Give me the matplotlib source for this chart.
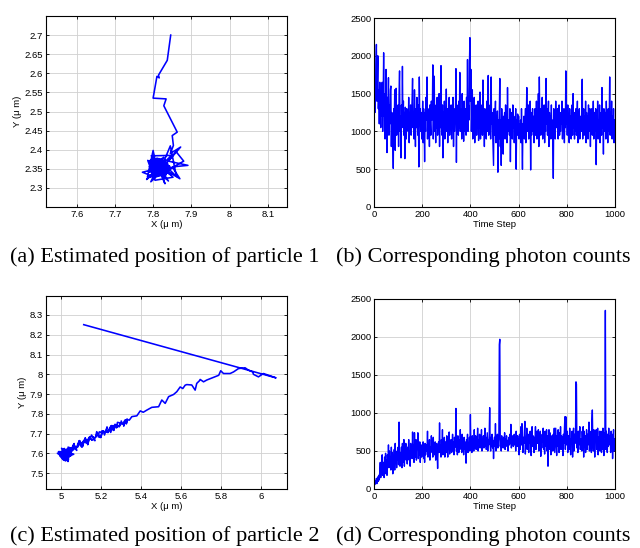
import matplotlib
matplotlib.use("Agg")
import matplotlib.pyplot as plt
from matplotlib.ticker import FuncFormatter

# ---------------- data ----------------
# (a) trajectory of particle 1: approach path, dense cluster, and spikes
traj1_head_x = [7.846, 7.837, 7.814, 7.816, 7.810, 7.800, 7.834, 7.828, 7.863, 7.850, 7.853,
                7.845, 7.872, 7.840, 7.891, 7.850, 7.870, 7.835, 7.880, 7.860, 7.830, 7.861, 7.845, 7.820]
traj1_head_y = [2.700, 2.634, 2.595, 2.588, 2.592, 2.535, 2.533, 2.515, 2.446, 2.437, 2.411,
                2.390, 2.407, 2.370, 2.359, 2.355, 2.324, 2.345, 2.370, 2.395, 2.360, 2.330, 2.410, 2.350]
traj1_cluster_x = [
    7.812, 7.828, 7.801, 7.836, 7.807, 7.822, 7.795, 7.841, 7.815, 7.803,
    7.830, 7.818, 7.792, 7.826, 7.809, 7.844, 7.813, 7.798, 7.833, 7.820,
    7.805, 7.838, 7.816, 7.790, 7.824, 7.811, 7.847, 7.800, 7.819, 7.832,
    7.808, 7.823, 7.796, 7.839, 7.814, 7.827, 7.802, 7.835, 7.817, 7.793,
    7.829, 7.806, 7.843, 7.821, 7.799, 7.831, 7.810, 7.825, 7.804, 7.837,
    7.815, 7.797, 7.834, 7.812, 7.840, 7.806, 7.822, 7.789, 7.827, 7.818,
    7.803, 7.836, 7.814, 7.829, 7.799, 7.845, 7.811, 7.824, 7.807, 7.832,
    7.819, 7.794, 7.828, 7.809, 7.838, 7.816, 7.801, 7.826, 7.813, 7.842,
    7.805, 7.821, 7.796, 7.833, 7.817, 7.808, 7.830, 7.791, 7.824, 7.812,
    7.839, 7.802, 7.827, 7.815, 7.846, 7.810, 7.820, 7.798, 7.835, 7.816,
    7.806, 7.831, 7.813, 7.825, 7.800, 7.837, 7.819, 7.795, 7.828, 7.811,
    7.843, 7.807, 7.822, 7.816, 7.834, 7.803, 7.826, 7.812, 7.799, 7.830,
    7.818, 7.840, 7.808, 7.824, 7.797, 7.832, 7.814, 7.829, 7.804, 7.821,
    7.836, 7.811, 7.793, 7.827, 7.817, 7.844, 7.806, 7.823, 7.815, 7.801,
    7.833, 7.809, 7.825, 7.790, 7.838, 7.814, 7.820, 7.802, 7.831, 7.816]
traj1_cluster_y = [
    2.351, 2.338, 2.366, 2.344, 2.372, 2.331, 2.358, 2.347, 2.377, 2.335,
    2.362, 2.349, 2.328, 2.369, 2.341, 2.356, 2.374, 2.337, 2.352, 2.365,
    2.333, 2.359, 2.345, 2.371, 2.339, 2.363, 2.350, 2.327, 2.368, 2.343,
    2.357, 2.376, 2.336, 2.354, 2.367, 2.342, 2.330, 2.361, 2.348, 2.373,
    2.340, 2.364, 2.353, 2.332, 2.370, 2.346, 2.378, 2.355, 2.337, 2.360,
    2.349, 2.366, 2.334, 2.358, 2.343, 2.375, 2.352, 2.329, 2.363, 2.345,
    2.369, 2.340, 2.356, 2.333, 2.361, 2.347, 2.372, 2.338, 2.354, 2.367,
    2.335, 2.358, 2.380, 2.344, 2.362, 2.331, 2.351, 2.368, 2.339, 2.357,
    2.373, 2.348, 2.336, 2.365, 2.343, 2.376, 2.353, 2.341, 2.360, 2.330,
    2.355, 2.370, 2.342, 2.359, 2.334, 2.364, 2.346, 2.374, 2.338, 2.361,
    2.344, 2.366, 2.332, 2.357, 2.371, 2.340, 2.362, 2.350, 2.328, 2.367,
    2.352, 2.337, 2.374, 2.345, 2.359, 2.369, 2.336, 2.356, 2.378, 2.343,
    2.364, 2.350, 2.333, 2.370, 2.347, 2.355, 2.339, 2.365, 2.372, 2.341,
    2.358, 2.330, 2.363, 2.348, 2.376, 2.337, 2.354, 2.367, 2.344, 2.360,
    2.346, 2.371, 2.339, 2.356, 2.365, 2.332, 2.361, 2.349, 2.373, 2.352]
traj1_tail_x = [7.772, 7.800, 7.785, 7.800, 7.810, 7.794, 7.820, 7.831, 7.815,
                7.783, 7.848, 7.795, 7.852, 7.805, 7.786, 7.840, 7.818]
traj1_tail_y = [2.341, 2.330, 2.328, 2.398, 2.350, 2.316, 2.340, 2.311, 2.350,
                2.322, 2.385, 2.384, 2.328, 2.320, 2.372, 2.318, 2.352]

# (c) trajectory of particle 2: straight jump, jagged path, noisy band, cluster
traj2_path_x = [5.112, 6.075, 6.012, 5.987, 5.962, 5.958, 5.937, 5.920, 5.887, 5.862, 5.845, 5.812,
                5.798, 5.788, 5.728, 5.712, 5.695, 5.692, 5.678, 5.670, 5.653, 5.628, 5.620, 5.608,
                5.595, 5.578, 5.562, 5.537, 5.520, 5.503, 5.487, 5.453, 5.428, 5.410, 5.395, 5.378,
                5.353, 5.340]
traj2_path_y = [8.251, 7.982, 8.004, 7.987, 8.000, 8.012, 8.021, 8.033, 8.029, 8.012, 8.004, 8.004,
                8.018, 7.995, 7.971, 7.962, 7.974, 7.968, 7.954, 7.920, 7.946, 7.948, 7.945, 7.928,
                7.936, 7.912, 7.898, 7.887, 7.853, 7.870, 7.836, 7.833, 7.819, 7.808, 7.815, 7.790,
                7.786, 7.768]
traj2_band_x = [
    5.332, 5.325, 5.329, 5.318, 5.312, 5.320, 5.305, 5.300, 5.296, 5.289,
    5.294, 5.281, 5.276, 5.283, 5.268, 5.262, 5.270, 5.255, 5.259, 5.247,
    5.240, 5.251, 5.233, 5.236, 5.224, 5.229, 5.216, 5.210, 5.219, 5.203,
    5.197, 5.206, 5.190, 5.184, 5.193, 5.177, 5.171, 5.180, 5.164, 5.158,
    5.168, 5.151, 5.145, 5.155, 5.138, 5.132, 5.142, 5.125, 5.119, 5.129,
    5.112, 5.106, 5.116, 5.099, 5.093, 5.103, 5.086, 5.080, 5.090, 5.073,
    5.067, 5.077, 5.060, 5.054, 5.064, 5.047, 5.041, 5.051, 5.034, 5.028,
    5.038, 5.021, 5.015, 5.025, 5.008,
    5.019, 5.002, 5.013, 4.996, 5.030, 5.007, 5.041, 4.990, 5.022, 5.052,
    5.010, 5.035, 4.985, 5.027, 5.046, 5.004, 5.018, 5.058, 4.993, 5.033,
    5.015, 5.049, 5.001, 5.024, 4.980, 5.038, 5.011, 5.062, 5.006, 5.029,
    5.044, 4.997, 5.020, 5.055, 5.008, 4.988, 5.036, 5.016, 5.067, 5.003,
    5.026, 5.047, 4.992, 5.012, 5.040, 5.021, 5.072, 5.005, 5.034, 5.014]
traj2_band_y = [
    7.771, 7.749, 7.774, 7.761, 7.738, 7.770, 7.747, 7.764, 7.745, 7.734,
    7.754, 7.757, 7.729, 7.741, 7.747, 7.716, 7.739, 7.720, 7.741, 7.706,
    7.726, 7.741, 7.705, 7.719, 7.707, 7.734, 7.693, 7.713, 7.708, 7.714,
    7.680, 7.706, 7.709, 7.685, 7.681, 7.710, 7.682, 7.700, 7.669, 7.685,
    7.664, 7.693, 7.675, 7.667, 7.678, 7.644, 7.685, 7.657, 7.679, 7.650,
    7.661, 7.635, 7.670, 7.647, 7.663, 7.631, 7.651, 7.630, 7.665, 7.623,
    7.638, 7.615, 7.643, 7.620, 7.650, 7.605, 7.630, 7.614, 7.632, 7.588,
    7.625, 7.602, 7.625, 7.583, 7.606,
    7.612, 7.583, 7.624, 7.592, 7.571, 7.618, 7.587, 7.603, 7.566, 7.628,
    7.595, 7.563, 7.608, 7.580, 7.621, 7.598, 7.575, 7.632, 7.606, 7.559,
    7.617, 7.589, 7.626, 7.568, 7.601, 7.579, 7.614, 7.596, 7.573, 7.622,
    7.586, 7.609, 7.562, 7.625, 7.593, 7.610, 7.570, 7.604, 7.631, 7.581,
    7.599, 7.616, 7.588, 7.565, 7.620, 7.585, 7.629, 7.594, 7.577, 7.605]

# photon counts, sampled every 2nd time step
time_steps = list(range(0, 1000, 2))
counts1 = [
    1350, 1600, 1250, 1500, 1900, 2150, 1400, 1700, 2000, 1300,
    1550, 1100, 1650, 1250, 1050, 1450, 1200, 1650, 1000, 1350,
    2040, 1200, 1500, 900, 1300, 1820, 1100, 720, 1450, 1250,
    1710, 950, 1350, 1100, 1550, 1600, 800, 1250, 1050, 900,
    510, 1300, 1100, 1550, 750, 1400, 1570, 950, 1250, 1100,
    1350, 800, 1500, 1800, 1000, 1200, 650, 1350, 1050, 1860,
    1100, 1400, 950, 1250, 640, 1320, 1150, 900, 1300, 1050,
    1250, 1000, 1450, 850, 1200, 1100, 1350, 950, 1150, 1400,
    1700, 1050, 1250, 900, 1550, 1150, 800, 1300, 1050, 1450,
    1200, 950, 1350, 530, 1720, 1100, 1300, 1000, 1250, 900,
    1050, 1400, 850, 1300, 1100, 600, 1250, 1000, 1450, 1150,
    1720, 900, 1300, 1050, 1200, 800, 1350, 1100, 950, 1400,
    1150, 1250, 1880, 900, 1300, 1730, 1000, 1200, 850, 1350,
    1050, 1450, 950, 1200, 1100, 1500, 800, 1300, 1050, 1870,
    1150, 950, 1350, 650, 1250, 1050, 1400, 900, 1200, 1100,
    1560, 1000, 1300, 850, 1200, 1100, 1450, 950, 1250, 1050,
    1350, 900, 1200, 1050, 1450, 800, 1300, 1000, 1150, 1250,
    1830, 590, 1350, 1100, 1250, 950, 1400, 1050, 1780, 1000,
    1200, 1300, 900, 1500, 1050, 1250, 870, 1400, 1100, 1000,
    1300, 950, 1450, 1100, 1950, 1000, 1350, 1150, 1900, 2240,
    1400, 1820, 1000, 1250, 1550, 900, 1300, 1100, 1450, 850,
    1200, 1000, 1350, 950, 1250, 1100, 1400, 880, 1150, 1050,
    1520, 900, 1250, 1100, 1350, 950, 1680, 1000, 1200, 800,
    1300, 1050, 1150, 900, 1400, 1000, 1250, 1740, 950, 1200,
    1050, 1350, 900, 1720, 1100, 1250, 1000, 800, 550, 1300,
    950, 1200, 1400, 850, 1100, 1000, 1270, 460, 1150, 900,
    1250, 1700, 800, 1150, 550, 1300, 950, 1100, 700, 1200,
    1050, 1250, 900, 1350, 1000, 1200, 850, 1580, 1000, 1150,
    1100, 950, 1300, 600, 1150, 1000, 1250, 900, 1350, 1050,
    1200, 850, 1100, 1000, 1300, 500, 1150, 950, 1230, 1050,
    1200, 900, 1100, 1000, 1150, 850, 1300, 950, 500, 1100,
    1050, 1200, 900, 1100, 1300, 850, 1150, 1580, 1000, 1250,
    1350, 900, 1200, 1050, 1400, 490, 1250, 950, 1100, 1300,
    1000, 1200, 850, 1150, 1300, 950, 1100, 1400, 900, 1250,
    1050, 1500, 800, 1720, 1100, 1300, 950, 1200, 1000, 1450,
    900, 1250, 1050, 1350, 850, 1200, 1000, 1700, 1100, 1300,
    950, 1150, 1400, 800, 1250, 1050, 1200, 900, 1350, 1000,
    1150, 850, 380, 1300, 1000, 1250, 900, 1400, 1050, 1200,
    1050, 1300, 900, 1150, 1350, 950, 1250, 1000, 1200, 1100,
    1400, 900, 1150, 1000, 1300, 850, 1200, 1050, 1800, 1100,
    1250, 950, 1350, 1000, 1150, 850, 1300, 1050, 1200, 900,
    1100, 1350, 950, 1500, 1050, 1200, 900, 1250, 1000, 1300,
    950, 1150, 1400, 850, 1250, 1050, 1300, 900, 1200, 1100,
    1000, 1250, 1690, 900, 1150, 1300, 950, 1200, 1050, 1400,
    850, 1250, 1050, 1200, 900, 1350, 1000, 1150, 1300, 800,
    1200, 1050, 1300, 950, 1150, 1400, 900, 1250, 1000, 1100,
    1300, 560, 1200, 1050, 1400, 900, 1150, 1000, 1350, 850,
    1100, 1250, 950, 1580, 1050, 1200, 700, 1300, 1000, 1150,
    1250, 900, 1400, 1050, 1200, 850, 1300, 1000, 1150, 1720,
    950, 1250, 1100, 1400, 900, 1200, 1050, 1300, 850, 1150]
counts2 = [
    50, 80, 60, 110, 90, 140, 70, 130, 160, 100,
    180, 120, 250, 350, 150, 300, 200, 450, 180, 280,
    350, 150, 420, 200, 470, 250, 380, 180, 450, 300,
    580, 280, 500, 350, 420, 250, 550, 300, 480, 200,
    400, 300, 520, 250, 600, 350, 450, 280, 500, 380,
    550, 320, 880, 400, 300, 480, 350, 550, 280, 600,
    420, 350, 650, 300, 500, 450, 600, 380, 520, 330,
    550, 420, 650, 380, 500, 300, 600, 450, 550, 400,
    750, 450, 580, 350, 740, 500, 420, 650, 380, 600,
    520, 740, 400, 550, 450, 620, 350, 500, 580, 420,
    550, 480, 620, 400, 530, 350, 600, 450, 520, 580,
    500, 760, 420, 580, 450, 650, 380, 550, 480, 700,
    520, 600, 420, 680, 500, 560, 450, 620, 380, 550,
    600, 470, 270, 550, 620, 480, 870, 500, 580, 420,
    650, 520, 780, 450, 600, 500, 680, 420, 560, 620,
    480, 700, 550, 420, 620, 520, 750, 460, 600, 540,
    650, 480, 580, 720, 500, 620, 450, 680, 550, 600,
    1060, 500, 620, 450, 700, 560, 480, 650, 520, 780,
    560, 650, 480, 720, 540, 600, 450, 680, 520, 620,
    500, 340, 650, 560, 720, 480, 600, 540, 680, 500,
    980, 550, 650, 480, 700, 560, 620, 500, 780, 540,
    600, 700, 520, 650, 580, 800, 500, 640, 560, 720,
    540, 660, 600, 780, 500, 650, 580, 700, 540, 620,
    800, 560, 680, 520, 620, 740, 500, 650, 580, 700,
    1070, 600, 500, 680, 560, 720, 540, 640, 400, 600,
    680, 560, 860, 500, 640, 580, 720, 540, 600, 650,
    1900, 1970, 560, 640, 500, 700, 580, 620, 540, 680,
    600, 740, 520, 660, 580, 700, 560, 640, 500, 620,
    680, 580, 720, 600, 850, 540, 660, 620, 700, 560,
    640, 720, 580, 680, 500, 760, 620, 560, 700, 600,
    660, 450, 720, 520, 640, 820, 580, 860, 620, 480,
    680, 600, 750, 890, 460, 660, 620, 800, 520, 640,
    720, 480, 680, 600, 760, 620, 440, 700, 820, 560,
    700, 620, 480, 680, 600, 820, 520, 660, 760, 600,
    640, 780, 500, 680, 620, 760, 430, 660, 540, 720,
    620, 800, 520, 700, 460, 760, 640, 560, 780, 500,
    700, 300, 620, 780, 520, 740, 600, 450, 680, 700,
    640, 500, 720, 600, 800, 480, 660, 800, 620, 440,
    700, 560, 780, 680, 480, 740, 580, 820, 520, 700,
    560, 680, 440, 720, 600, 780, 950, 520, 950, 660,
    580, 760, 480, 700, 680, 520, 800, 620, 450, 660,
    620, 760, 420, 660, 800, 500, 720, 600, 680, 1410,
    1380, 540, 700, 480, 760, 580, 680, 820, 520, 640,
    660, 500, 760, 580, 820, 420, 760, 560, 700, 480,
    600, 780, 520, 720, 580, 700, 880, 500, 760, 580,
    700, 480, 900, 1040, 620, 500, 780, 640, 420, 700,
    660, 780, 520, 640, 800, 450, 680, 560, 760, 500,
    580, 760, 480, 700, 520, 800, 600, 440, 740, 680,
    2350, 520, 760, 600, 480, 720, 560, 800, 580, 680,
    700, 480, 760, 620, 720, 400, 640, 780, 500, 660]

captions = ["(a) Estimated position of particle 1", "(b) Corresponding photon counts",
            "(c) Estimated position of particle 2", "(d) Corresponding photon counts"]

# ---------------- plotting ----------------
plt.rcParams['font.family'] = ['Liberation Sans', 'DejaVu Sans']
fig = plt.figure(figsize=(6.4, 5.48), dpi=100)

W, H = 640.0, 548.0
def ax_at(l, t, r, b):
    return fig.add_axes([l / W, 1 - b / H, (r - l) / W, (b - t) / H])

ax_a = ax_at(46, 16, 287, 207)
ax_b = ax_at(374, 18, 615, 207)
ax_c = ax_at(46, 296, 287, 489)
ax_d = ax_at(374, 299, 615, 489)

BLUE = (0, 0, 1)
tfs = 6.8

def style(ax):
    ax.grid(True, color='#d0d0d0', linewidth=0.6)
    ax.set_axisbelow(True)
    ax.tick_params(direction='in', length=2.5, width=0.6, labelsize=tfs, top=True, right=True, pad=2)
    for s in ax.spines.values():
        s.set_linewidth(0.8)

gfmt = FuncFormatter(lambda v, p: ('%g' % round(v, 4)))

t1x = traj1_head_x + traj1_cluster_x + traj1_tail_x
t1y = traj1_head_y + traj1_cluster_y + traj1_tail_y
ax_a.plot(t1x, t1y, color=BLUE, linewidth=1.15)
ax_a.set_xlim(7.52, 8.15)
ax_a.set_ylim(2.25, 2.75)
ax_a.set_xticks([7.6, 7.7, 7.8, 7.9, 8.0, 8.1])
ax_a.set_yticks([2.3, 2.35, 2.4, 2.45, 2.5, 2.55, 2.6, 2.65, 2.7])
ax_a.xaxis.set_major_formatter(gfmt)
ax_a.yaxis.set_major_formatter(gfmt)
ax_a.set_xlabel('X (μ m)', fontsize=tfs, labelpad=1)
ax_a.set_ylabel('Y (μ m)', fontsize=tfs, labelpad=2)

t2x = traj2_path_x + traj2_band_x
t2y = traj2_path_y + traj2_band_y
ax_c.plot(t2x, t2y, color=BLUE, linewidth=1.15)
ax_c.set_xlim(4.923, 6.13)
ax_c.set_ylim(7.42, 8.396)
ax_c.set_xticks([5, 5.2, 5.4, 5.6, 5.8, 6])
ax_c.set_yticks([7.5, 7.6, 7.7, 7.8, 7.9, 8.0, 8.1, 8.2, 8.3])
ax_c.xaxis.set_major_formatter(gfmt)
ax_c.yaxis.set_major_formatter(gfmt)
ax_c.set_xlabel('X (μ m)', fontsize=tfs, labelpad=1)
ax_c.set_ylabel('Y (μ m)', fontsize=tfs, labelpad=2)

for ax, cnt in ((ax_b, counts1), (ax_d, counts2)):
    ax.plot(time_steps, cnt, color=BLUE, linewidth=1.0)
    ax.set_xlim(0, 1000)
    ax.set_ylim(0, 2500)
    ax.set_xticks([0, 200, 400, 600, 800, 1000])
    ax.set_yticks([0, 500, 1000, 1500, 2000, 2500])
    ax.set_xlabel('Time Step', fontsize=tfs, labelpad=1)

for ax in (ax_a, ax_b, ax_c, ax_d):
    style(ax)

cap_kw = dict(fontsize=16, family=['Liberation Serif', 'DejaVu Serif'], ha='center', va='center')
fig.text(165 / W, 1 - 257 / H, captions[0], **cap_kw)
fig.text(483 / W, 1 - 257 / H, captions[1], **cap_kw)
fig.text(165 / W, 1 - 536 / H, captions[2], **cap_kw)
fig.text(483 / W, 1 - 536 / H, captions[3], **cap_kw)

fig.savefig('out.png', dpi=100)
